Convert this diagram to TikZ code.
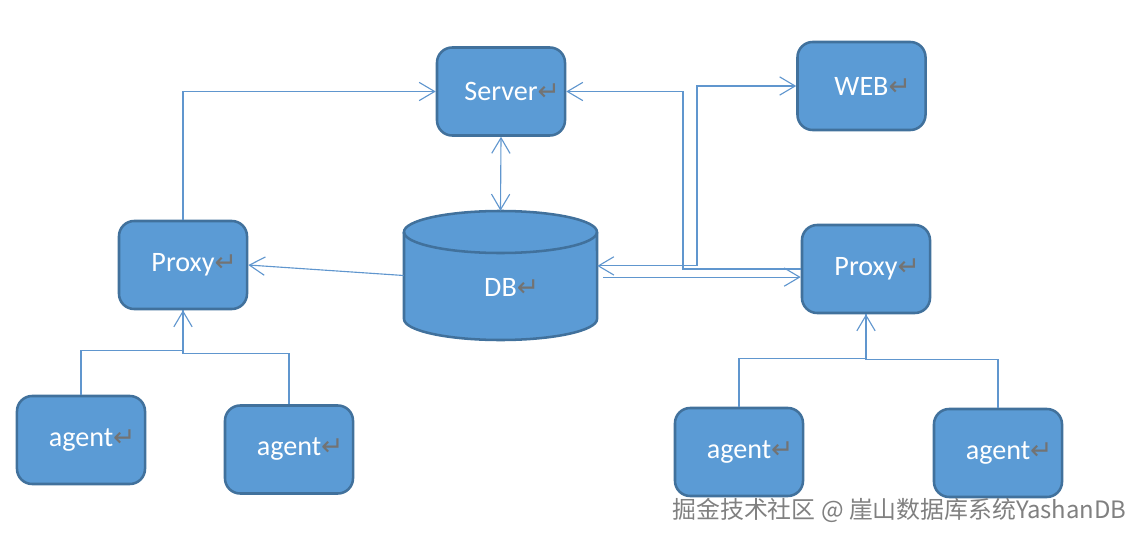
\documentclass[tikz,border=0pt]{standalone}
\usepackage{fontspec}
\setmainfont{Carlito}
\newfontfamily\symfont{DejaVu Sans}
\newfontfamily\cjkfont{Noto Sans CJK SC}
\usepackage{tikz}
\usetikzlibrary{arrows.meta,positioning}

\definecolor{boxblue}{RGB}{91,155,213}
\definecolor{boxedge}{RGB}{65,113,156}
\definecolor{linkblue}{RGB}{96,150,206}
\definecolor{retgray}{RGB}{115,115,115}
\newcommand{\retmark}{\rlap{\symfont\fontsize{19}{19}\selectfont\color{retgray}↵}}

\begin{document}
\begin{tikzpicture}[x=0.025cm,y=-0.025cm,-,>={Straight Barb[length=11pt,width=13pt]},
  box/.style={rectangle,rounded corners=0.38cm,draw=boxedge,fill=boxblue,line width=1.8pt,
    minimum width=3.2cm,minimum height=2.2cm,text=white,font=\fontsize{20}{24}\selectfont},
  dbbox/.style={rectangle,minimum width=4.825cm,minimum height=3.225cm,inner sep=0pt},
  dbshape/.style={draw=boxedge,fill=boxblue,line width=1.8pt},
  dblabel/.style={text=white,font=\fontsize{20}{24}\selectfont,yshift=-0.3cm},
  link/.style={draw=linkblue,line width=0.8pt}]

    \useasboundingbox (0,0) rectangle (1140,539);

    % cylinder for the database
    \path[dbshape] (404,232) -- (404,319) arc[start angle=180,end angle=360,x radius=2.4125cm,y radius=0.525cm]
      -- (597,232) arc[start angle=0,end angle=180,x radius=2.4125cm,y radius=0.525cm] -- cycle;
    \draw[boxedge,line width=1.8pt] (404,232) arc[start angle=180,end angle=360,x radius=2.4125cm,y radius=0.525cm];
    \node[dbbox,label={[dblabel]center:DB\retmark}] (db) at (500.5,275.5) {};

    \node[box] (server) at (501,91.5) {Server\retmark};
    \node[box] (web) at (861.5,86) {WEB\retmark};
    \node[box] (proxyL) at (183,265) {Proxy\retmark};
    \node[box] (proxyR) at (866,269) {Proxy\retmark};

    \node[box] (agentLL) at (81,440) {agent\retmark};
    \node[box] (agentLR) at (289,449.5) {agent\retmark};
    \node[box] (agentRL) at (739,452) {agent\retmark};
    \node[box] (agentRR) at (998,453) {agent\retmark};

    \coordinate (bendA) at (683,0);
    \coordinate (bendB) at (697,0);
    \coordinate (dbR1) at ([yshift=0.24cm]db.east);
    \coordinate (dbR2) at ([xshift=0.15cm,yshift=-0.04cm]db.east);

    \draw[link,->] (proxyL.north) |- (server.west);
    \draw[link,<->] (server.south) -- (db.north);
    \draw[link,->] (db.west) -- (proxyL.east);
    \draw[link,->] (proxyR.west) -- (proxyR.west -| bendA) |- (server.east);
    \draw[link,<->] (dbR1) -- (dbR1 -| bendB) |- (web.west);
    \draw[link,->] (dbR2) -- (dbR2 -| proxyR.west);

    \draw[link,->] (agentLL.north) -- ++(0,-44) -| (proxyL.south);
    \draw[link] (agentLR.north) -- ++(0,-51) -| (proxyL.south);
    \draw[link,->] (agentRL.north) -- ++(0,-48) -| (proxyR.south);
    \draw[link] (agentRR.north) -- ++(0,-48) -| (proxyR.south);

    \node[font=\cjkfont\fontsize{17}{20}\selectfont,text=gray] (mark) at (899.5,510)
      {掘金技术社区 @ 崖山数据库系统YashanDB};
\end{tikzpicture}
\end{document}
